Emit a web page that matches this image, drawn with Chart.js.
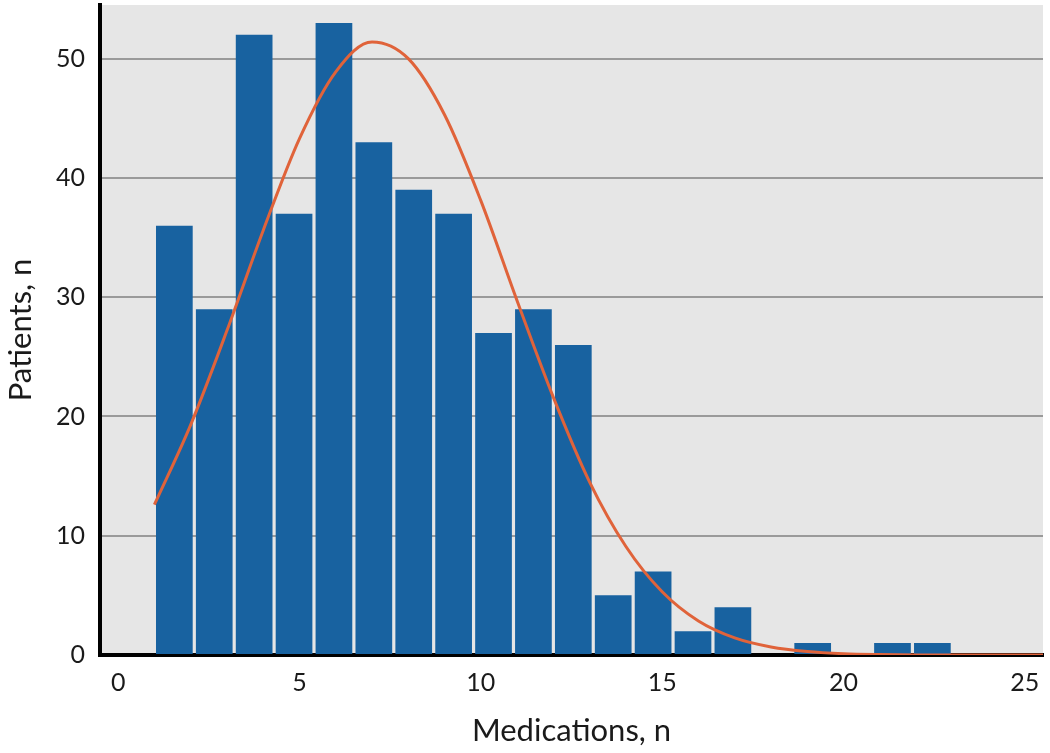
<!DOCTYPE html>
<html>
<head>
<meta charset="utf-8">
<script src="https://cdn.jsdelivr.net/npm/chart.js@4"></script>
<style>
  html, body { margin: 0; padding: 0; background: #fff; }
  #wrap { width: 1050px; height: 753px; }
</style>
</head>
<body>
<div id="wrap"><canvas id="myChart" width="1050" height="753"></canvas></div>
<script>
// histogram bins (width 1.1, from 1 to 23) - centres and counts
var binCenters = [1.55, 2.65, 3.75, 4.85, 5.95, 7.05, 8.15, 9.25, 10.35, 11.45,
                  12.55, 13.65, 14.75, 15.85, 16.95, 18.05, 19.15, 20.25, 21.35, 22.45];
var patientCounts = [36, 29, 52, 37, 53, 43, 39, 37, 27, 29,
                     26, 5, 7, 2, 4, 0, 1, 0, 1, 1];

// fitted curve
var curveX = [1, 2, 3, 4, 5, 6, 7, 8, 9, 10, 11, 12, 13, 14, 15, 16, 17, 18, 19, 20, 21, 22, 23, 24, 25, 25.5];
var curveY = [12.6, 19.3, 27.2, 35.6, 43.3, 48.9, 51.4, 50.0, 45.3, 38.1, 29.7, 21.6, 14.5, 9.1, 5.3, 2.85,
              1.43, 0.67, 0.29, 0.11, 0.04, 0.01, 0, 0, 0, 0];

var xTicks = [0, 5, 10, 15, 20, 25];
var yTicks = [0, 10, 20, 30, 40, 50];

var barColor = '#1862a0';
var curveColor = '#e0633a';

var plotBg = {
    id: 'plotBg',
    beforeDraw: function (chart) {
        var a = chart.chartArea;
        var ctx = chart.ctx;
        ctx.save();
        ctx.fillStyle = '#e6e6e6';
        ctx.fillRect(a.left, a.top, a.right - a.left, a.bottom - a.top);
        ctx.restore();
    }
};

var barData = binCenters.map(function (x, i) { return {x: x, y: patientCounts[i]}; });
var lineData = curveX.map(function (x, i) { return {x: x, y: curveY[i]}; });

Chart.defaults.font.family = 'Lato, "Open Sans", sans-serif';
Chart.defaults.color = '#1a1a1a';

new Chart('myChart', {
    type: 'bar',
    data: {
        datasets: [{
            type: 'line',
            data: lineData,
            borderColor: curveColor,
            borderWidth: 3,
            pointRadius: 0,
            cubicInterpolationMode: 'monotone',
            fill: false,
            order: 0
        }, {
            type: 'bar',
            data: barData,
            backgroundColor: barColor,
            borderWidth: 0,
            barPercentage: 0.92,
            categoryPercentage: 1,
            order: 1
        }]
    },
    options: {
        responsive: false,
        animation: false,
        layout: {padding: {top: 5, right: 7, left: 0, bottom: 0}},
        plugins: {
            legend: {display: false},
            tooltip: {enabled: false}
        },
        scales: {
            x: {
                type: 'linear',
                min: -0.5,
                max: 25.5,
                offset: false,
                afterBuildTicks: function (s) { s.ticks = xTicks.map(function (v) { return {value: v}; }); },
                afterFit: function (s) {
                    s.height = 98;
                    s.paddingLeft = 0;
                    s.paddingRight = 0;
                },
                grid: {display: false, drawTicks: false},
                border: {display: true, color: '#000', width: 4},
                ticks: {font: {size: 25}, padding: 13, maxRotation: 0},
                title: {display: true, text: 'Medications, n', font: {size: 31}, padding: {top: 2, bottom: 3}}
            },
            y: {
                min: 0,
                max: 54.5,
                afterBuildTicks: function (s) { s.ticks = yTicks.map(function (v) { return {value: v}; }); },
                afterFit: function (s) {
                    s.width = 100;
                    s.paddingTop = 0;
                    s.paddingBottom = 0;
                },
                grid: {color: '#9a9a9a', lineWidth: 2, drawTicks: false},
                border: {display: true, color: '#000', width: 4},
                ticks: {font: {size: 25}, padding: 15},
                title: {display: true, text: 'Patients, n', font: {size: 31}, padding: {top: 2, bottom: 2}}
            }
        }
    },
    plugins: [plotBg]
});
</script>
</body>
</html>
